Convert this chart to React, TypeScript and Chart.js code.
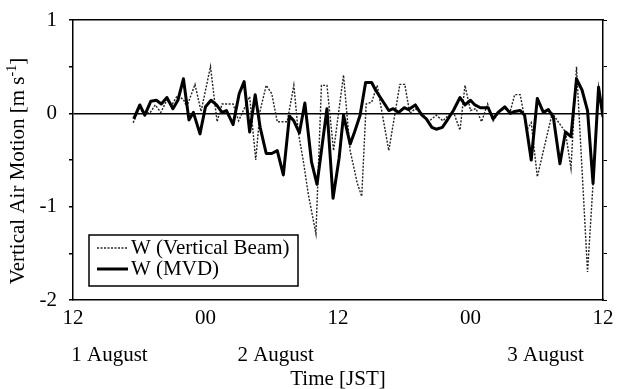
import React, { useEffect, useRef } from "react";
import { Chart, registerables } from "chart.js";

Chart.register(...registerables);

// Hours after 1 August 12:00 JST
const mvdHours = [5.5, 6.05, 6.5, 7.05, 7.55, 8.0, 8.5, 9.05, 9.5, 10.0, 10.5, 10.9, 11.5, 12.0, 12.5, 13.0, 13.5, 13.9, 14.5, 15.05, 15.5, 16.0, 16.5, 16.95, 17.5, 18.0, 18.5, 19.05, 19.6, 20.0, 20.5, 21.0, 21.6, 22.1, 23.0, 23.55, 24.1, 24.5, 25.1, 25.5, 26.0, 26.5, 27.05, 27.4, 28.0, 28.6, 29.0, 29.5, 30.0, 30.4, 31.0, 31.6, 32.0, 32.5, 32.9, 33.45, 33.85, 34.45, 35.05, 35.5, 36.0, 36.4, 36.9, 37.6, 38.05, 38.5, 39.1, 39.6, 40.0, 40.5, 40.9, 41.5, 42.05, 42.6, 43.05, 43.5, 44.1, 44.6, 45.1, 45.6, 46.1, 46.6, 47.1, 47.6, 48.0];
const mvdValues = [-0.06, 0.09, -0.02, 0.13, 0.14, 0.1, 0.17, 0.05, 0.14, 0.37, -0.07, 0.01, -0.22, 0.07, 0.14, 0.09, 0.01, 0.03, -0.12, 0.21, 0.34, -0.2, 0.2, -0.15, -0.43, -0.43, -0.4, -0.66, -0.03, -0.08, -0.21, 0.11, -0.52, -0.76, 0.05, -0.91, -0.48, -0.02, -0.33, -0.2, -0.02, 0.33, 0.33, 0.25, 0.14, 0.03, 0.05, 0.01, 0.06, 0.04, 0.09, -0.02, -0.06, -0.15, -0.17, -0.15, -0.08, 0.03, 0.17, 0.09, 0.14, 0.09, 0.06, 0.06, -0.06, 0.01, 0.07, 0.0, 0.02, 0.03, -0.02, -0.5, 0.16, 0.01, 0.04, -0.04, -0.54, -0.2, -0.25, 0.37, 0.25, 0.03, -0.75, 0.28, -0.04];

const vbHours = [5.45, 6.0, 6.5, 7.0, 7.45, 7.95, 8.5, 9.0, 9.45, 10.0, 10.3, 11.05, 11.6, 12.45, 13.05, 13.5, 14.5, 15.0, 15.5, 16.0, 16.55, 16.95, 17.5, 18.0, 18.5, 19.4, 20.0, 20.4, 20.9, 21.3, 22.0, 22.5, 23.0, 23.6, 24.5, 25.1, 25.75, 26.15, 26.55, 27.05, 27.55, 28.6, 29.6, 30.05, 30.5, 31.0, 31.6, 32.2, 32.9, 33.5, 34.0, 34.5, 35.05, 35.5, 36.0, 36.5, 37.0, 37.55, 38.05, 38.6, 39.1, 39.6, 40.0, 40.5, 41.1, 41.5, 42.05, 43.4, 44.6, 45.1, 45.6, 46.6, 47.1, 47.6, 48.0];
const vbValues = [-0.1, 0.05, 0.0, 0.01, 0.09, 0.01, 0.14, 0.1, 0.19, 0.15, 0.07, 0.31, 0.02, 0.5, -0.09, 0.1, 0.1, -0.08, 0.05, 0.18, -0.5, 0.03, 0.3, 0.21, -0.09, -0.09, 0.3, -0.2, -0.54, -0.86, -1.29, 0.3, 0.3, -0.4, 0.41, -0.4, -0.75, -0.89, 0.1, 0.12, 0.3, -0.4, 0.31, 0.31, 0.0, 0.05, 0.0, -0.09, -0.02, -0.08, -0.02, 0.0, -0.18, 0.3, 0.03, 0.05, -0.09, 0.1, -0.08, 0.02, 0.05, 0.02, 0.2, 0.2, -0.18, -0.1, -0.68, 0.0, -0.2, -0.59, 0.5, -1.7, -0.75, 0.28, -0.04];

const xTickLabels = ["12", "00", "12", "00", "12"];
const dateLabels = ["1 August", "2 August", "3 August"];
const dateLabelHours = [3.3, 18.35, 42.8];
const seriesNames = ["W (Vertical Beam)", "W (MVD)"];

const FONT = "'Liberation Serif', 'Times New Roman', serif";
const FS = 21;

export default function App() {
  const ref = useRef<HTMLCanvasElement | null>(null);

  useEffect(() => {
    document.body.style.margin = "0";
    const canvas = ref.current;
    if (!canvas) return;

    const extras = {
      id: "extras",
      afterDraw(chart: any) {
        const ctx = chart.ctx as CanvasRenderingContext2D;
        const xs = chart.scales.x;
        ctx.save();
        ctx.fillStyle = "#000";
        // date labels and x title
        ctx.font = `${FS}px ${FONT}`;
        ctx.textAlign = "center";
        ctx.textBaseline = "middle";
        dateLabels.forEach((t, i) => {
          ctx.fillText(t, xs.getPixelForValue(dateLabelHours[i]), 355);
        });
        ctx.fillText("Time [JST]", (chart.chartArea.left + chart.chartArea.right) / 2, 379);
        // y title with superscript
        ctx.save();
        ctx.translate(18, 171);
        ctx.rotate(-Math.PI / 2);
        ctx.textAlign = "left";
        const p1 = "Vertical Air Motion [m s";
        const sup = "-1";
        const p2 = "]";
        ctx.font = `${FS}px ${FONT}`;
        const w1 = ctx.measureText(p1).width;
        const w3 = ctx.measureText(p2).width;
        ctx.font = `14px ${FONT}`;
        const w2 = ctx.measureText(sup).width;
        const total = w1 + w2 + w3;
        const x0 = -total / 2;
        ctx.font = `${FS}px ${FONT}`;
        ctx.fillText(p1, x0, 0);
        ctx.font = `14px ${FONT}`;
        ctx.fillText(sup, x0 + w1, -6);
        ctx.font = `${FS}px ${FONT}`;
        ctx.fillText(p2, x0 + w1 + w2, 0);
        ctx.restore();
        // legend
        ctx.fillStyle = "#fff";
        ctx.fillRect(89, 235, 209, 51);
        ctx.strokeStyle = "#000";
        ctx.lineWidth = 1.5;
        ctx.strokeRect(89, 235, 209, 51);
        ctx.beginPath();
        ctx.setLineDash([2, 1.5]);
        ctx.lineWidth = 1.4;
        ctx.strokeStyle = "#222";
        ctx.moveTo(97, 248);
        ctx.lineTo(128, 248);
        ctx.stroke();
        ctx.setLineDash([]);
        ctx.beginPath();
        ctx.lineWidth = 3;
        ctx.strokeStyle = "#000";
        ctx.moveTo(97, 269);
        ctx.lineTo(128, 269);
        ctx.stroke();
        ctx.fillStyle = "#000";
        ctx.textAlign = "left";
        ctx.font = `${FS}px ${FONT}`;
        ctx.fillText(seriesNames[0], 131, 248);
        ctx.fillText(seriesNames[1], 131, 269);
        ctx.restore();
      },
    };

    const chart = new Chart(canvas, {
      type: "line",
      data: {
        datasets: [
          {
            label: seriesNames[1],
            data: mvdHours.map((h, i) => ({ x: h, y: mvdValues[i] })),
            borderColor: "#000",
            borderWidth: 3,
            pointRadius: 0,
            tension: 0,
            borderJoinStyle: "round",
          },
          {
            label: seriesNames[0],
            data: vbHours.map((h, i) => ({ x: h, y: vbValues[i] })),
            borderColor: "#222",
            borderWidth: 1.4,
            borderDash: [2, 1.5],
            pointRadius: 0,
            tension: 0,
          },
        ],
      },
      plugins: [extras],
      options: {
        animation: false,
        responsive: false,
        devicePixelRatio: 1,
        layout: { padding: { top: 20, left: 0, right: 0, bottom: 0 } },
        plugins: { legend: { display: false }, tooltip: { enabled: false } },
        scales: {
          x: {
            type: "linear",
            position: "bottom",
            min: 0,
            max: 48,
            afterFit: (s: any) => {
              s.height = 89;
              s.paddingLeft = 0;
              s.paddingRight = 0;
            },
            afterBuildTicks: (s: any) => {
              s.ticks = [0, 12, 24, 36, 48].map((v) => ({ value: v }));
            },
            ticks: {
              padding: 6,
              maxRotation: 0,
              autoSkip: false,
              color: "#000",
              font: { family: FONT, size: FS },
              callback: (v: any) => xTickLabels[Math.round(Number(v) / 12)] ?? "",
            },
            grid: { display: true, drawOnChartArea: false, drawTicks: false },
            border: { display: true, color: "#000", width: 1.5 },
          },
          x2: {
            type: "linear",
            position: "top",
            min: 0,
            max: 48,
            afterFit: (s: any) => {
              s.height = 0;
              s.paddingLeft = 0;
              s.paddingRight = 0;
            },
            ticks: { display: false },
            grid: { display: true, drawOnChartArea: false, drawTicks: false },
            border: { display: true, color: "#000", width: 1.5 },
          },
          y: {
            position: "left",
            min: -2,
            max: 1,
            afterFit: (s: any) => {
              s.width = 73;
              s.paddingTop = 0;
              s.paddingBottom = 0;
            },
            ticks: {
              stepSize: 0.5,
              padding: 12,
              color: "#000",
              font: { family: FONT, size: FS },
              callback: (v: any) => (Number.isInteger(Number(v)) ? String(v) : ""),
            },
            grid: {
              drawOnChartArea: true,
              drawTicks: true,
              tickLength: 4,
              tickColor: "#000",
              lineWidth: 1.5,
              color: (c: any) => (c.tick && c.tick.value === 0 ? "#000" : "rgba(0,0,0,0)"),
            },
            border: { display: true, color: "#000", width: 1.5 },
          },
          y2: {
            position: "right",
            min: -2,
            max: 1,
            afterFit: (s: any) => {
              s.width = 14;
              s.paddingTop = 0;
              s.paddingBottom = 0;
            },
            ticks: { stepSize: 0.5, display: false },
            grid: { drawOnChartArea: false, drawTicks: true, tickLength: 4, color: "#000", lineWidth: 1 },
            border: { display: true, color: "#000", width: 1.5 },
          },
        },
      } as any,
    });
    return () => chart.destroy();
  }, []);

  return (
    <div style={{ width: 617, height: 389 }}>
      <canvas ref={ref} width={617} height={389} style={{ display: "block" }} />
    </div>
  );
}
